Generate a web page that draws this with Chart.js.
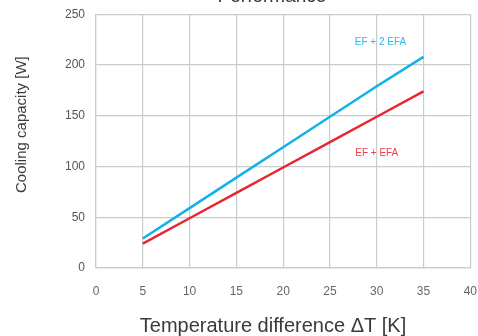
<!DOCTYPE html>
<html>
<head>
<meta charset="utf-8">
<script src="https://cdn.jsdelivr.net/npm/chart.js@4"></script>
<style>
  html, body { margin: 0; padding: 0; background: #fff; }
  #wrap { position: relative; width: 478px; height: 336px; }
</style>
</head>
<body>
<div id="wrap"><canvas id="perf_chart" width="478" height="336"></canvas></div>
<script>
var deltaT = [5, 10, 15, 20, 25, 30, 35];
var capTwoEfa = [29, 59, 89, 119, 149, 179, 208];
var capOneEfa = [24, 49, 74, 99, 124, 149, 174];
var seriesNames = ["EF + 2 EFA", "EF + EFA"];
var chartTitle = "Performance";
var xTitle = "Temperature difference \u0394T [K]";
var yTitle = "Cooling capacity [W]";

var cyan = "#12b1e8", red = "#e8262f";
var fontFam = "'Liberation Sans', Arial, sans-serif";

function toPoints(xs, ys) {
    var res = [];
    for (var i = 0; i < xs.length; ++i) res.push({ x: xs[i], y: ys[i] });
    return res;
}

// series labels placed inside the plot, in data units
var seriesLabelAt = [
    { x: 30.4, y: 222, color: "#2bb9ea" },
    { x: 30, y: 113, color: "#ee3f48" },
];

var textPlugin = {
    id: "textPlugin",
    afterDraw: function (chart) {
        var ctx = chart.ctx, sx = chart.scales.x, sy = chart.scales.y;
        ctx.save();
        ctx.textAlign = "center";
        ctx.textBaseline = "middle";
        ctx.font = "10px " + fontFam;
        seriesLabelAt.forEach(function (p, i) {
            ctx.fillStyle = p.color;
            ctx.fillText(seriesNames[i], sx.getPixelForValue(p.x), sy.getPixelForValue(p.y));
        });
        ctx.fillStyle = "#3a3a3a";
        ctx.textBaseline = "alphabetic";
        ctx.font = "19px " + fontFam;
        ctx.fillText(chartTitle, 272, 2);
        ctx.font = "20px " + fontFam;
        ctx.fillText(xTitle, 273, 332);
        ctx.font = "15px " + fontFam;
        ctx.textAlign = "left";
        ctx.translate(26, 193);
        ctx.rotate(-Math.PI / 2);
        ctx.fillText(yTitle, 0, 0);
        ctx.restore();
    },
};

new Chart(document.getElementById("perf_chart").getContext("2d"), {
    type: "line",
    data: {
        datasets: [
            {
                label: seriesNames[0],
                data: toPoints(deltaT, capTwoEfa),
                borderColor: cyan,
                borderWidth: 2.5,
                pointRadius: 0,
                fill: false,
            },
            {
                label: seriesNames[1],
                data: toPoints(deltaT, capOneEfa),
                borderColor: red,
                borderWidth: 2.5,
                pointRadius: 0,
                fill: false,
            },
        ],
    },
    options: {
        responsive: false,
        animation: false,
        layout: { padding: 0 },
        plugins: { legend: { display: false }, title: { display: false }, tooltip: { enabled: false } },
        scales: {
            x: {
                type: "linear",
                min: 0,
                max: 40,
                afterFit: function (s) { s.height = 68; },
                grid: { color: "#c9cccf", lineWidth: 1.2, drawTicks: true, tickLength: 15, tickColor: "rgba(0,0,0,0)" },
                border: { color: "#c9cccf", width: 1.2 },
                ticks: { stepSize: 5, padding: 1, color: "#666", font: { family: fontFam, size: 12 } },
            },
            y: {
                min: 0,
                max: 250,
                afterFit: function (s) { s.width = 96; },
                grid: { color: "#c9cccf", lineWidth: 1.2, drawTicks: true, tickLength: 4, tickColor: "rgba(0,0,0,0)" },
                border: { color: "#c9cccf", width: 1.2 },
                ticks: { stepSize: 50, padding: 7, color: "#555", font: { family: fontFam, size: 12 } },
            },
        },
    },
    plugins: [textPlugin],
});
</script>
</body>
</html>
